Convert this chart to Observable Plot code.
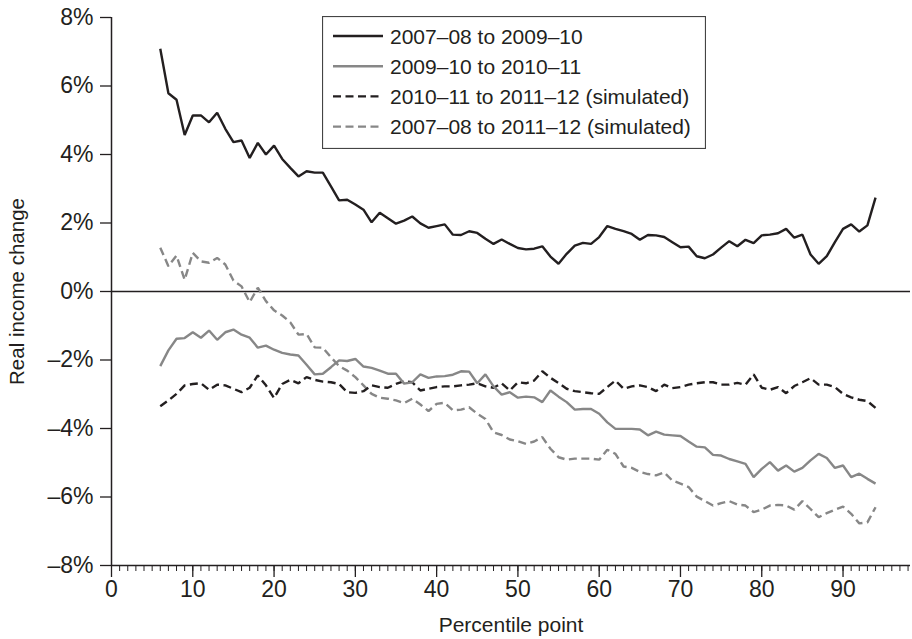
<!DOCTYPE html>
<html><head><meta charset="utf-8">
<script src="https://cdn.jsdelivr.net/npm/d3@7"></script>
<script src="https://cdn.jsdelivr.net/npm/@observablehq/plot@0.6"></script>
<style>
body{margin:0;background:#fff;}
#wrap{position:relative;width:912px;height:639px;font-family:"Liberation Sans",Arial,sans-serif;}
#legend{position:absolute;left:322px;top:16px;}
.xt text{font-family:"Liberation Sans Narrow","Liberation Sans",Arial,sans-serif;}
</style></head><body><div id="wrap"></div>
<script>
const percentiles = [6,7,8,9,10,11,12,13,14,15,16,17,18,19,20,21,22,23,24,25,26,27,28,29,30,31,32,33,34,35,36,37,38,39,40,41,42,43,44,45,46,47,48,49,50,51,52,53,54,55,56,57,58,59,60,61,62,63,64,65,66,67,68,69,70,71,72,73,74,75,76,77,78,79,80,81,82,83,84,85,86,87,88,89,90,91,92,93,94];
// 2007-08 to 2009-10
const s1 = [7.09,5.79,5.60,4.57,5.14,5.14,4.94,5.22,4.75,4.36,4.41,3.90,4.34,4.00,4.26,3.87,3.61,3.36,3.51,3.47,3.47,3.07,2.66,2.68,2.54,2.39,2.02,2.30,2.14,1.98,2.07,2.19,1.99,1.86,1.91,1.96,1.66,1.65,1.76,1.71,1.54,1.39,1.52,1.39,1.27,1.23,1.25,1.32,1.02,0.81,1.10,1.34,1.42,1.39,1.59,1.91,1.83,1.76,1.68,1.51,1.65,1.64,1.59,1.44,1.29,1.31,1.03,0.97,1.08,1.28,1.47,1.32,1.51,1.41,1.64,1.66,1.70,1.83,1.57,1.66,1.08,0.81,1.03,1.44,1.83,1.96,1.75,1.93,2.74];
// 2009-10 to 2010-11
const s2 = [-2.18,-1.72,-1.38,-1.36,-1.19,-1.35,-1.14,-1.41,-1.19,-1.11,-1.26,-1.35,-1.64,-1.58,-1.70,-1.79,-1.84,-1.87,-2.14,-2.42,-2.40,-2.21,-2.01,-2.03,-1.97,-2.19,-2.23,-2.31,-2.40,-2.40,-2.69,-2.65,-2.42,-2.52,-2.48,-2.47,-2.43,-2.33,-2.34,-2.68,-2.42,-2.77,-3.01,-2.94,-3.10,-3.07,-3.09,-3.23,-2.89,-3.07,-3.23,-3.45,-3.43,-3.43,-3.57,-3.82,-4.01,-4.01,-4.01,-4.03,-4.20,-4.09,-4.18,-4.20,-4.22,-4.38,-4.53,-4.55,-4.77,-4.79,-4.89,-4.96,-5.03,-5.42,-5.18,-4.98,-5.23,-5.08,-5.26,-5.15,-4.93,-4.74,-4.86,-5.15,-5.08,-5.42,-5.32,-5.47,-5.61];
// 2010-11 to 2011-12 (simulated)
const s3 = [-3.35,-3.18,-2.99,-2.74,-2.70,-2.68,-2.87,-2.72,-2.74,-2.84,-2.94,-2.81,-2.45,-2.74,-3.11,-2.70,-2.58,-2.68,-2.50,-2.58,-2.63,-2.65,-2.70,-2.94,-2.96,-2.91,-2.74,-2.79,-2.81,-2.70,-2.62,-2.65,-2.89,-2.84,-2.79,-2.77,-2.77,-2.74,-2.72,-2.68,-2.77,-2.81,-2.68,-2.89,-2.65,-2.68,-2.60,-2.33,-2.52,-2.67,-2.84,-2.91,-2.94,-2.97,-2.99,-2.79,-2.60,-2.84,-2.77,-2.74,-2.79,-2.91,-2.72,-2.82,-2.79,-2.72,-2.68,-2.65,-2.65,-2.72,-2.72,-2.67,-2.72,-2.42,-2.81,-2.87,-2.79,-2.97,-2.76,-2.65,-2.53,-2.72,-2.72,-2.79,-2.99,-3.09,-3.16,-3.20,-3.40];
// 2007-08 to 2011-12 (simulated)
const s4 = [1.28,0.74,1.05,0.34,1.13,0.88,0.84,0.98,0.79,0.32,0.15,-0.31,0.11,-0.28,-0.55,-0.70,-0.90,-1.26,-1.24,-1.63,-1.64,-1.92,-2.18,-2.31,-2.50,-2.74,-2.99,-3.10,-3.13,-3.18,-3.26,-3.13,-3.30,-3.49,-3.28,-3.25,-3.47,-3.45,-3.38,-3.57,-3.72,-4.11,-4.19,-4.32,-4.37,-4.45,-4.38,-4.25,-4.59,-4.84,-4.91,-4.88,-4.88,-4.88,-4.91,-4.62,-4.74,-5.11,-5.15,-5.27,-5.33,-5.37,-5.28,-5.52,-5.61,-5.71,-5.99,-6.12,-6.25,-6.18,-6.12,-6.22,-6.25,-6.44,-6.37,-6.25,-6.23,-6.25,-6.37,-6.12,-6.35,-6.59,-6.47,-6.37,-6.28,-6.49,-6.77,-6.74,-6.30];

const seriesNames = ["2007–08 to 2009–10","2009–10 to 2010–11","2010–11 to 2011–12 (simulated)","2007–08 to 2011–12 (simulated)"];
const seriesColors = ["#231f20","#878787","#231f20","#878787"];
const seriesDash = [null,null,"8,4.5","8,4.5"];
const yTicks = [-8,-6,-4,-2,0,2,4,6,8];
const xTicks = [0,10,20,30,40,50,60,70,80,90];
const xMinorTicks = d3.range(0,99);

const allSeries = [s1,s2,s3,s4];
const rows = [];
allSeries.forEach((vals,i)=>vals.forEach((v,j)=>rows.push({series:seriesNames[i], x:percentiles[j], y:v})));

const ink = "#231f20";
const lineMarks = [3,2,1,0].map(i => Plot.line(rows.filter(r=>r.series===seriesNames[i]), {
  x:"x", y:"y", stroke: seriesColors[i], strokeWidth: 2.4,
  strokeDasharray: seriesDash[i] || undefined, strokeLinejoin:"miter", strokeLinecap:"butt"
}));

const plot = Plot.plot({
  width: 912, height: 639,
  marginLeft: 111, marginRight: 2, marginTop: 17, marginBottom: 74,
  style: {fontFamily: "Liberation Sans, Arial, sans-serif", fontSize: "21px", color: ink, background: "#fff"},
  x: {domain: [0, 98.3]},
  y: {domain: [-8, 8]},
  marks: [
    Plot.axisY({ticks: yTicks, tickSize: 11, tickPadding: 7, stroke: ink, strokeWidth: 1.3, fontSize: 23,
      tickFormat: d => (d < 0 ? "–" : "") + Math.abs(d) + "%", label: null}),
    Plot.axisY({ticks: [], tickSize: 0, fontSize: 20.5,
      label: "Real income change", labelAnchor: "center", labelArrow: "none", labelOffset: 102}),
    Plot.axisX({ticks: xMinorTicks, tickSize: 6, tickFormat: () => "", label: null, stroke: ink, strokeWidth: 1}),
    Plot.axisX({ticks: xTicks, tickSize: 12, tickPadding: 3, stroke: ink, strokeWidth: 1.3, fontSize: 23,
      className: "xt", label: null}),
    Plot.axisX({ticks: [], tickSize: 0, fontSize: 21,
      label: "Percentile point", labelAnchor: "center", labelArrow: "none", labelOffset: 66}),
    Plot.ruleX([0], {stroke: ink, strokeWidth: 1.5}),
    Plot.ruleY([-8], {stroke: ink, strokeWidth: 1.5}),
    Plot.ruleY([0], {stroke: ink, strokeWidth: 1.3}),
    ...lineMarks
  ]
});
const wrap = document.getElementById("wrap");
wrap.appendChild(plot);

// Legend (inset box)
const lg = d3.select(wrap).append("svg").attr("id","legend").attr("width",384).attr("height",133);
lg.append("rect").attr("x",0.5).attr("y",0.5).attr("width",383).attr("height",132)
  .attr("fill","#fff").attr("stroke","#444").attr("stroke-width",1.2);
seriesNames.forEach((name,i)=>{
  const cy = 20 + i*30.2;
  lg.append("line").attr("x1",11).attr("x2",61).attr("y1",cy).attr("y2",cy)
    .attr("stroke",seriesColors[i]).attr("stroke-width",2.4)
    .attr("stroke-dasharray", seriesDash[i] || null);
  lg.append("text").attr("x",68).attr("y",cy).attr("dy","0.36em")
    .attr("font-size","21px").attr("fill",ink)
    .attr("font-family","Liberation Sans, Arial, sans-serif").text(name);
});
</script></body></html>
